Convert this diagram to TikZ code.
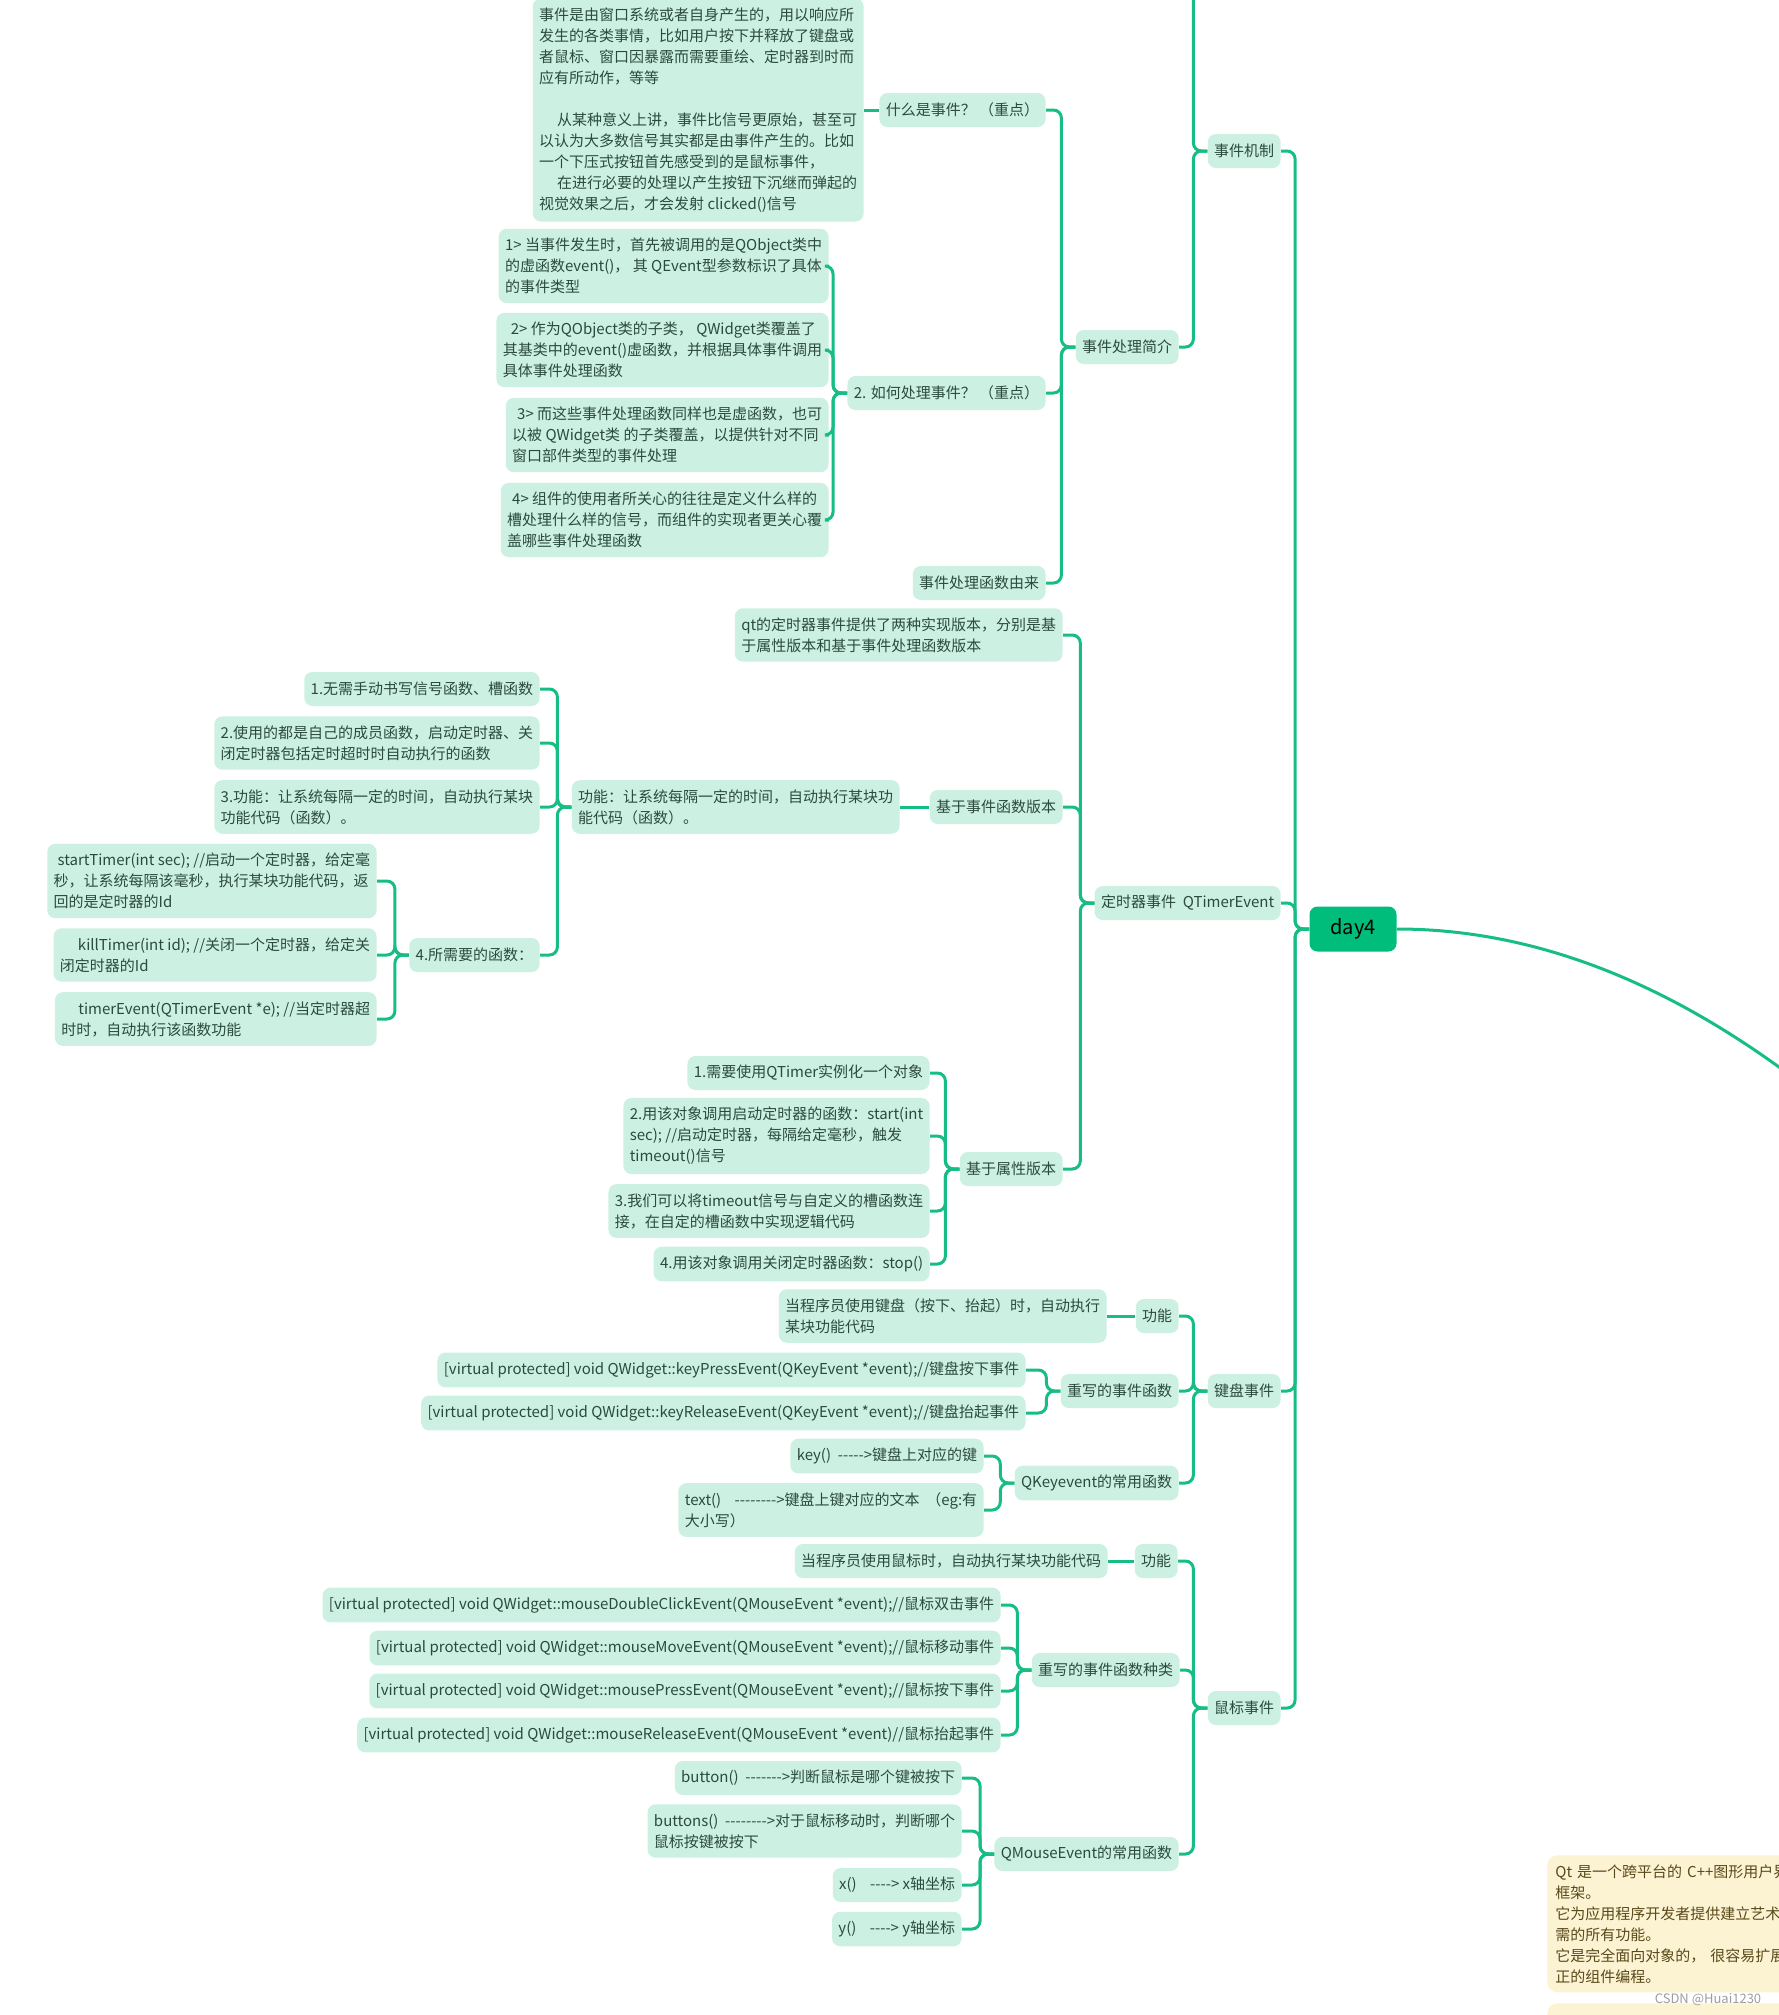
\documentclass[tikz,border=0pt]{standalone}
\usepackage{fontspec}
\setmainfont{Noto Sans CJK SC}[Ligatures=TeXOff]
\usetikzlibrary{positioning, calc}

\definecolor{mindline}{HTML}{17BE83}
\definecolor{mindfill}{HTML}{CCF1E3}
\definecolor{mindtext}{HTML}{2C4A3E}
\definecolor{rootfill}{HTML}{00BD7B}
\definecolor{notefill}{HTML}{FCF3D3}
\definecolor{notetext}{HTML}{5A4A1A}

\begin{document}
\begin{tikzpicture}[
        x=0.5pt, y=-0.5pt,
        topic/.style={fill=mindfill, text=mindtext, rounded corners=4pt, anchor=east,
            inner xsep=3.2pt, inner ysep=4.6pt, minimum height=17pt, align=left,
            font=\fontsize{7.5pt}{10.5pt}\selectfont},
        rootnode/.style={fill=rootfill, text=black, rounded corners=4pt,
            minimum width=43.5pt, minimum height=22.5pt, font=\fontsize{10pt}{12pt}\selectfont},
        notebox/.style={fill=notefill, text=notetext, rounded corners=5pt, anchor=north west,
            inner xsep=4pt, inner ysep=4.5pt, text width=170pt, align=left,
            font=\fontsize{7.5pt}{10.5pt}\selectfont},
        link/.style={draw=mindline, line width=1.5pt, rounded corners=4pt}
    ]

    \useasboundingbox (0,0) rectangle (1779,2015);
    \fill[white] (0,0) rectangle (1779,2015);
    \clip (0,0) rectangle (1779,2015);

    % Root
    \node[rootnode] (day4) at (1353,929) {day4};

    % --- Event mechanism ---
    \node[topic] (mech) at (1281,151) {事件机制};
    \node[topic] (intro) at (1179,347) {事件处理简介};
    \node[topic] (whatIs) at (1046,110) {什么是事件？~（重点）};
    \node[topic] (whatIsText) at (864,110) {事件是由窗口系统或者自身产生的，用以响应所\\发生的各类事情，比如用户按下并释放了键盘或\\者鼠标、窗口因暴露而需要重绘、定时器到时而\\应有所动作，等等\\[10.5pt]\hspace*{9pt}从某种意义上讲，事件比信号更原始，甚至可\\以认为大多数信号其实都是由事件产生的。比如\\一个下压式按钮首先感受到的是鼠标事件，\\\hspace*{9pt}在进行必要的处理以产生按钮下沉继而弹起的\\视觉效果之后，才会发射 clicked()信号};
    \node[topic] (howTo) at (1046,393) {2. 如何处理事件？~（重点）};
    \node[topic] (h1) at (829,266) {1> 当事件发生时，首先被调用的是QObject类中\\的虚函数event()，~其 QEvent型参数标识了具体\\的事件类型};
    \node[topic] (h2) at (829,350) {\hspace*{4pt}2> 作为QObject类的子类，~QWidget类覆盖了\\其基类中的event()虚函数，并根据具体事件调用\\具体事件处理函数};
    \node[topic] (h3) at (829,435) {\hspace*{2.5pt}3> 而这些事件处理函数同样也是虚函数，也可\\以被 QWidget类 的子类覆盖，以提供针对不同\\窗口部件类型的事件处理};
    \node[topic] (h4) at (829,520) {\hspace*{2.5pt}4> 组件的使用者所关心的往往是定义什么样的\\槽处理什么样的信号，而组件的实现者更关心覆\\盖哪些事件处理函数};
    \node[topic] (origin) at (1046,583) {事件处理函数由来};

    % hidden child above the top edge
    \coordinate (mechUp) at (1180,-40);

    \draw[link] (mechUp) -| ($(mech.west)+(-14,0)$) -- (mech.west);
    \draw[link] (intro.east) -| ($(mech.west)+(-14,0)$) -- (mech.west);
    \foreach \kid in {whatIs,howTo,origin}
        \draw[link] (\kid.east) -| ($(intro.west)+(-14,0)$) -- (intro.west);
    \draw[link] (whatIsText.east) -- (whatIs.west);
    \foreach \kid in {h1,h2,h3,h4}
        \draw[link] (\kid.east) -| ($(howTo.west)+(-14,0)$) -- (howTo.west);

    % --- Timer event ---
    \node[topic] (timer) at (1281,903) {定时器事件~~QTimerEvent};
    \node[topic] (qtIntro) at (1063,635) {qt的定时器事件提供了两种实现版本，分别是基\\于属性版本和基于事件处理函数版本};
    \node[topic] (evVer) at (1063,807) {基于事件函数版本};
    \node[topic] (evFunc) at (900,807) {功能：让系统每隔一定的时间，自动执行某块功\\能代码（函数）。};
    \node[topic] (ev1) at (540,689) {1.无需手动书写信号函数、槽函数};
    \node[topic] (ev2) at (540,743) {2.使用的都是自己的成员函数，启动定时器、关\\闭定时器包括定时超时时自动执行的函数};
    \node[topic] (ev3) at (540,807) {3.功能：让系统每隔一定的时间，自动执行某块\\功能代码（函数）。};
    \node[topic] (ev4) at (540,955) {4.所需要的函数：};
    \node[topic] (fn1) at (377,881) {\hspace*{2pt}startTimer(int sec); //启动一个定时器，给定毫\\秒，让系统每隔该毫秒，执行某块功能代码，返\\回的是定时器的Id};
    \node[topic] (fn2) at (377,955) {\hspace*{9pt}killTimer(int id); //关闭一个定时器，给定关\\闭定时器的Id};
    \node[topic] (fn3) at (377,1019) {\hspace*{8.5pt}timerEvent(QTimerEvent *e); //当定时器超\\时时，自动执行该函数功能};
    \node[topic] (propVer) at (1063,1169) {基于属性版本};
    \node[topic] (p1) at (930,1073) {1.需要使用QTimer实例化一个对象};
    \node[topic] (p2) at (930,1136) {2.用该对象调用启动定时器的函数：start(int\\sec); //启动定时器，每隔给定毫秒，触发\\timeout()信号};
    \node[topic] (p3) at (930,1211) {3.我们可以将timeout信号与自定义的槽函数连\\接，在自定的槽函数中实现逻辑代码};
    \node[topic] (p4) at (930,1264) {4.用该对象调用关闭定时器函数：stop()};

    \foreach \kid in {qtIntro,evVer,propVer}
        \draw[link] (\kid.east) -| ($(timer.west)+(-14,0)$) -- (timer.west);
    \draw[link] (evFunc.east) -- (evVer.west);
    \foreach \kid in {ev1,ev2,ev3,ev4}
        \draw[link] (\kid.east) -| ($(evFunc.west)+(-14,0)$) -- (evFunc.west);
    \foreach \kid in {fn1,fn2,fn3}
        \draw[link] (\kid.east) -| ($(ev4.west)+(-14,0)$) -- (ev4.west);
    \foreach \kid in {p1,p2,p3,p4}
        \draw[link] (\kid.east) -| ($(propVer.west)+(-14,0)$) -- (propVer.west);

    % --- Keyboard event ---
    \node[topic] (keyboard) at (1281,1391) {键盘事件};
    \node[topic] (kbFunc) at (1179,1316) {功能};
    \node[topic] (kbFuncText) at (1107,1316) {当程序员使用键盘（按下、抬起）时，自动执行\\某块功能代码};
    \node[topic] (kbOverride) at (1179,1391) {重写的事件函数};
    \node[topic] (kb1) at (1026,1370) {[virtual protected] void QWidget::keyPressEvent(QKeyEvent *event);//键盘按下事件};
    \node[topic] (kb2) at (1026,1413) {[virtual protected] void QWidget::keyReleaseEvent(QKeyEvent *event);//键盘抬起事件};
    \node[topic] (kbQ) at (1179,1483) {QKeyevent的常用函数};
    \node[topic] (kq1) at (984,1456) {key()~~----->键盘上对应的键};
    \node[topic] (kq2) at (984,1510) {text()~~~~-------->键盘上键对应的文本~~（eg:有\\大小写）};

    \foreach \kid in {kbFunc,kbOverride,kbQ}
        \draw[link] (\kid.east) -| ($(keyboard.west)+(-14,0)$) -- (keyboard.west);
    \draw[link] (kbFuncText.east) -- (kbFunc.west);
    \foreach \kid in {kb1,kb2}
        \draw[link] (\kid.east) -| ($(kbOverride.west)+(-14,0)$) -- (kbOverride.west);
    \foreach \kid in {kq1,kq2}
        \draw[link] (\kid.east) -| ($(kbQ.west)+(-14,0)$) -- (kbQ.west);

    % --- Mouse event ---
    \node[topic] (mouse) at (1281,1708) {鼠标事件};
    \node[topic] (msFunc) at (1178,1561) {功能};
    \node[topic] (msFuncText) at (1108,1561) {当程序员使用鼠标时，自动执行某块功能代码};
    \node[topic] (msOverride) at (1180,1670) {重写的事件函数种类};
    \node[topic] (m1) at (1001,1605) {[virtual protected] void QWidget::mouseDoubleClickEvent(QMouseEvent *event);//鼠标双击事件};
    \node[topic] (m2) at (1001,1648) {[virtual protected] void QWidget::mouseMoveEvent(QMouseEvent *event);//鼠标移动事件};
    \node[topic] (m3) at (1001,1691) {[virtual protected] void QWidget::mousePressEvent(QMouseEvent *event);//鼠标按下事件};
    \node[topic] (m4) at (1001,1735) {[virtual protected] void QWidget::mouseReleaseEvent(QMouseEvent *event)//鼠标抬起事件};
    \node[topic] (msQ) at (1179,1854) {QMouseEvent的常用函数};
    \node[topic] (mq1) at (962,1778) {button()~~------->判断鼠标是哪个键被按下};
    \node[topic] (mq2) at (962,1831) {buttons()~~-------->对于鼠标移动时，判断哪个\\鼠标按键被按下};
    \node[topic] (mq3) at (962,1885) {x()~~~~----> x轴坐标};
    \node[topic] (mq4) at (962,1929) {y()~~~~----> y轴坐标};

    \foreach \kid in {msFunc,msOverride,msQ}
        \draw[link] (\kid.east) -| ($(mouse.west)+(-14,0)$) -- (mouse.west);
    \draw[link] (msFuncText.east) -- (msFunc.west);
    \foreach \kid in {m1,m2,m3,m4}
        \draw[link] (\kid.east) -| ($(msOverride.west)+(-14,0)$) -- (msOverride.west);
    \foreach \kid in {mq1,mq2,mq3,mq4}
        \draw[link] (\kid.east) -| ($(msQ.west)+(-14,0)$) -- (msQ.west);

    % Root to its main topics
    \foreach \kid in {mech,timer,keyboard,mouse}
        \draw[link] (\kid.east) -| ($(day4.west)+(-14,0)$) -- (day4.west);

    % branch leaving to the right
    \coordinate (rightOut) at (1900,1168);
    \draw[link] (day4.east) .. controls (1565,929) and (1732,1009) .. (rightOut);

    % Notes at the bottom right
    \node[notebox] (qtNote) at (1547,1855) {Qt 是一个跨平台的 C++图形用户界面\\框架。\\它为应用程序开发者提供建立艺术级\\需的所有功能。\\它是完全面向对象的，~很容易扩展\\正的组件编程。};
    \node[notebox, minimum height=40pt] (qtNote2) at (1547,2003) {};
    \node[text=black!38, font=\fontsize{6.5pt}{8pt}\selectfont] (mark) at (1708,2000) {CSDN @Huai1230};
\end{tikzpicture}
\end{document}
